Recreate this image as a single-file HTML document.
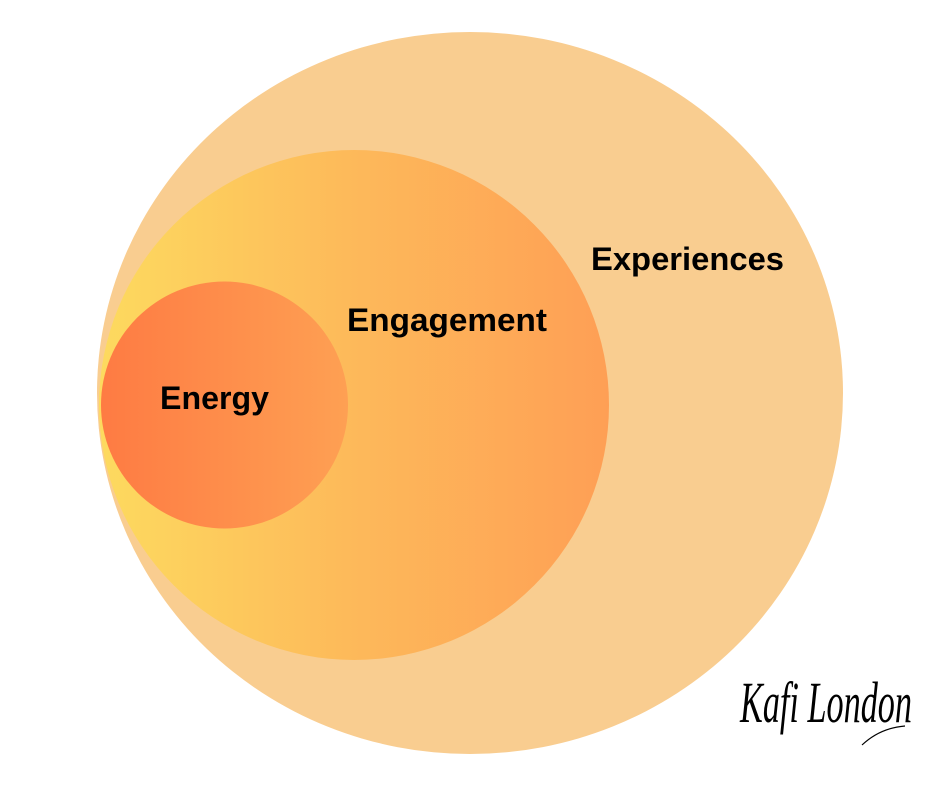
<!DOCTYPE html>
<html><head><meta charset="utf-8"><style>
html,body{margin:0;padding:0;background:#fff;}
svg{display:block;}
</style></head><body>
<svg width="940" height="788" viewBox="0 0 940 788" xmlns="http://www.w3.org/2000/svg">
<defs>
<linearGradient id="mid" x1="0" x2="1" y1="0" y2="0">
<stop offset="0" stop-color="#FDDA5F"/>
<stop offset="0.5" stop-color="#FDB95A"/>
<stop offset="1" stop-color="#FE9F55"/>
</linearGradient>
<linearGradient id="inn" x1="0" x2="1" y1="0" y2="0">
<stop offset="0" stop-color="#FE7B43"/>
<stop offset="1" stop-color="#FEA053"/>
</linearGradient>
</defs>
<ellipse cx="470" cy="393" rx="373" ry="361" fill="#F9CD90"/>
<circle cx="354" cy="405" r="255" fill="url(#mid)"/>
<circle cx="224.5" cy="405" r="123.5" fill="url(#inn)"/>
<g font-family="Liberation Sans, sans-serif" font-weight="bold" font-size="32" fill="#000">
<text x="591" y="270" textLength="193" lengthAdjust="spacingAndGlyphs">Experiences</text>
<text x="347" y="331" textLength="200" lengthAdjust="spacingAndGlyphs">Engagement</text>
<text x="160" y="409" textLength="109" lengthAdjust="spacingAndGlyphs">Energy</text>
</g>
<text x="740" y="730" font-family="Liberation Serif, serif" font-style="italic" font-size="58" fill="#000" textLength="172" lengthAdjust="spacingAndGlyphs" transform="translate(0,-8) scale(1,1)">Kafi London</text>
<path d="M862 745 Q880 728 905 726" stroke="#000" stroke-width="1.2" fill="none"/>
</svg>
</body></html>
